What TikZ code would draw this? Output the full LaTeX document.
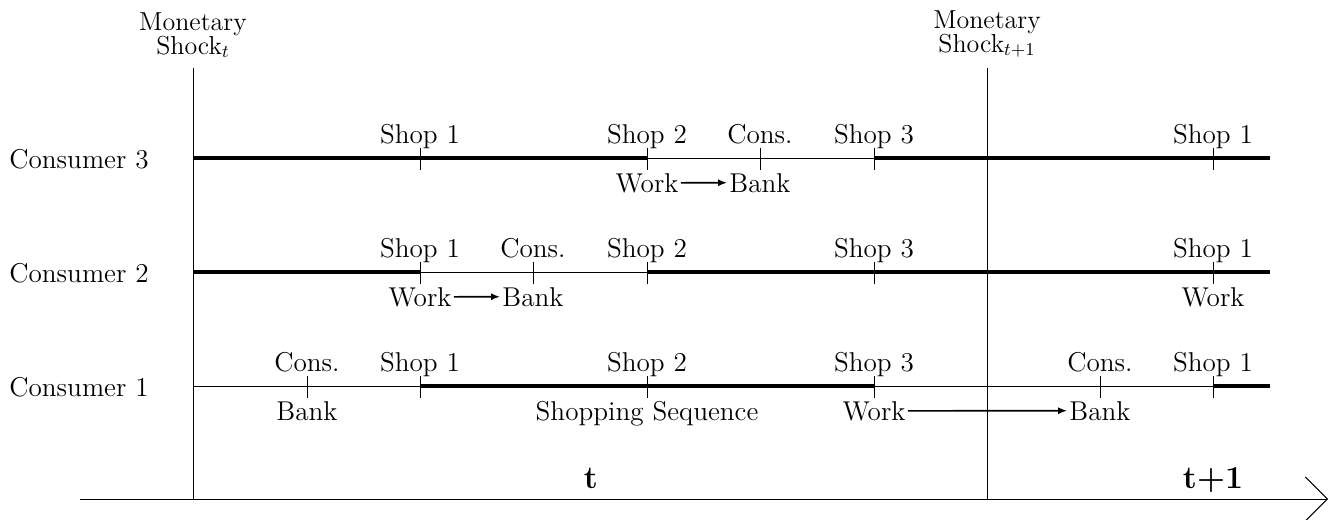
\documentclass[tikz,border=0pt]{standalone}
\usetikzlibrary{arrows.meta}

\begin{document}
\begin{tikzpicture}[x=0.5pt,y=-0.5pt]
    \tikzset{heavy/.style={line width=2.3pt},
             light/.style={line width=0.5pt},
             lab/.style={font=\fontsize{13.6}{16}\selectfont,inner sep=1pt,anchor=base},
             who/.style={font=\fontsize{13.6}{16}\selectfont,inner sep=0pt,anchor=base east},
             shock/.style={font=\fontsize{13}{12}\selectfont,align=center,inner sep=0pt,anchor=south},
             period/.style={font=\fontsize{16}{18}\selectfont\bfseries,inner sep=0pt,anchor=base},
             move/.style={line width=0.8pt,-{Latex[length=4.5pt,width=3.5pt]}}}
    \useasboundingbox (0,0) rectangle (1335,520);

    % time axis and shocks
    \coordinate (ax0) at (80,499);
    \coordinate (ax1) at (1328,499);
    \draw[light,-{Straight Barb[length=11pt,width=22pt]}] (ax0) -- (ax1);
    \coordinate (sh0) at (193,68);
    \coordinate (sh1) at (987,68);
    \draw[light] (sh0) -- (sh0 |- ax0);
    \draw[light] (sh1) -- (sh1 |- ax0);
    \node[shock] (ms0) at (193,58) {Monetary\\Shock$_t$};
    \node[shock] (ms1) at (987,58) {Monetary\\Shock$_{t+1}$};
    \node[period] (pt0) at (591,488) {t};
    \node[period] (pt1) at (1213,488) {t+1};

    % consumers
    \node[who] (c3) at (149,168) {Consumer 3};
    \node[who] (c2) at (149,282) {Consumer 2};
    \node[who] (c1) at (149,396) {Consumer 1};

    % consumer 3
    \draw[heavy] (193,158) -- (647,158);
    \draw[light] (647,158) -- (874,158);
    \draw[heavy] (874,158) -- (1270,158);
    % consumer 2
    \draw[heavy] (193,272) -- (420,272);
    \draw[light] (420,272) -- (647,272);
    \draw[heavy] (647,272) -- (1270,272);
    % consumer 1
    \draw[light] (193,386) -- (420,386);
    \draw[heavy] (420,386) -- (874,386);
    \draw[light] (874,386) -- (1213,386);
    \draw[heavy] (1213,386) -- (1270,386);

    % ticks and labels above
    \foreach \x/\t/\n in {420/Shop 1/a,647/Shop 2/b,760/Cons./c,874/Shop 3/d,1213/Shop 1/e} {
        \draw[light] (\x,148) -- (\x,170);
        \node[lab] (c3\n) at (\x,143) {\t};
    }
    \foreach \x/\t/\n in {420/Shop 1/a,533/Cons./b,647/Shop 2/c,874/Shop 3/d,1213/Shop 1/e} {
        \draw[light] (\x,262) -- (\x,284);
        \node[lab] (c2\n) at (\x,257) {\t};
    }
    \foreach \x/\t/\n in {307/Cons./a,420/Shop 1/b,647/Shop 2/c,874/Shop 3/d,1100/Cons./e,1213/Shop 1/f} {
        \draw[light] (\x,376) -- (\x,398);
        \node[lab] (c1\n) at (\x,371) {\t};
    }

    % labels below
    \node[lab] (w3) at (647,192) {Work};
    \node[lab] (b3) at (760,192) {Bank};
    \node[lab] (w2) at (420,306) {Work};
    \node[lab] (b2) at (533,306) {Bank};
    \node[lab] (w2r) at (1213,306) {Work};
    \node[lab] (b1l) at (307,420) {Bank};
    \node[lab] (seq) at (647,420) {Shopping Sequence};
    \node[lab] (w1) at (874,420) {Work};
    \node[lab] (b1) at (1100,420) {Bank};

    \path[move]
    (w3) edge (b3)
    (w2) edge (b2)
    (w1) edge (b1);
\end{tikzpicture}
\end{document}
